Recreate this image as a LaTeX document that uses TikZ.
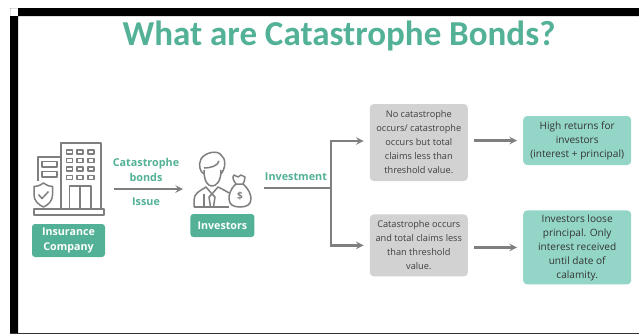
\documentclass[tikz,border=0pt]{standalone}
\usepackage{xcolor}
\usepackage{fontspec}
\setmainfont{Open Sans}
\newfontfamily\titlefont{Carlito}
\usetikzlibrary{arrows, positioning}
\definecolor{tealdark}{HTML}{52B196}
\definecolor{teallight}{HTML}{93D6C7}
\definecolor{greybox}{HTML}{D2D2D2}
\definecolor{greyline}{HTML}{7F7F7F}

\begin{document}
\begin{tikzpicture}[
    x=1pt, y=-1pt,
    darkbox/.style={rectangle, rounded corners=3pt, fill=tealdark, text=white, font=\fontsize{10.7}{15}\selectfont\bfseries, align=center, inner sep=0pt},
    greynode/.style={rectangle, rounded corners=4pt, fill=greybox, text=black!75, font=\fontsize{9.2}{14}\selectfont, align=center, inner sep=0pt, minimum width=98pt},
    result/.style={rectangle, rounded corners=4pt, fill=teallight, text=black!80, font=\fontsize{10.1}{14}\selectfont, align=center, inner sep=0pt, minimum width=108pt},
    caption/.style={text=tealdark, font=\fontsize{10.8}{15}\selectfont\bfseries, align=center, inner sep=0pt},
    arrow/.style={line width=2.3pt, ->, >=stealth, draw=greyline},
    flowline/.style={line width=2.3pt, draw=greyline},
    icon/.style={line width=1.5pt, draw=greyline, line join=round}
]
    \useasboundingbox (0,0) rectangle (639,335);
    \fill[white] (0,0) rectangle (639,335);

    % Frame
    \fill[black] (10,333.5) rectangle (18,8) -- (10,8) rectangle (639,16);
    \fill[black!80] (10,332.5) rectangle (639,334);

    % Title
    \node[text=tealdark, inner sep=0pt, font=\fontsize{35}{38}\selectfont\titlefont\bfseries] (title) at (339,36) {What are Catastrophe Bonds?};

    % Boxes
    \node[darkbox, minimum width=73pt, minimum height=33pt] (insurance) at (68.5,240.5) {Insurance\\Company};
    \node[darkbox, minimum width=64pt, minimum height=23pt, right=85pt of insurance.east, anchor=west, yshift=15pt] (investors) {Investors};
    \node[greynode, minimum height=77pt, right=115pt of investors.east, anchor=west, yshift=83pt] (nocat) {No catastrophe\\occurs/ catastrophe\\occurs but total\\claims less than\\threshold value.};
    \node[greynode, minimum height=62pt, below=33pt of nocat] (cat) {Catastrophe occurs\\and total claims less\\than threshold\\value.};
    \node[result, minimum height=49pt, right=55pt of nocat, yshift=2pt] (high) {High returns for\\investors\\(interest + principal)};
    \node[result, minimum height=74pt, right=55pt of cat, yshift=-2pt] (loose) {Investors loose\\principal. Only\\interest received\\until date of\\calamity.};

    % Labels
    \node[caption] (bonds) at (146,170) {Catastrophe\\bonds};
    \node[caption] (issue) at (146,202) {Issue};
    \node[caption] (investment) at (296,177) {Investment};

    % Building
    \draw[icon] (34,209) rectangle (104,215);
    \draw[icon] (61,209) -- (61,143) -- (101,143) -- (101,209);
    \foreach \wy in {150,158.5,167,175.5}
        \foreach \wx in {66.5,77,88}
            \draw[icon] (\wx,\wy) rectangle ++(6,4);
    \draw[icon] (69.5,209) -- (69.5,186) -- (91,186) -- (91,209);
    \draw[icon] (80,186) -- (80,209);
    \draw[icon] (38,181) -- (38,157) -- (61,157);
    \draw[icon] (42,161.5) rectangle (57,167);
    \draw[icon] (42,171.5) rectangle (57,177);
    \draw[icon] (43.5,183) .. controls (39,186) and (37,186.5) .. (34,186.5) -- (34,195) .. controls (34,201) and (39,205) .. (43.5,207) .. controls (48,205) and (52.5,201) .. (52.5,195) -- (52.5,186.5) .. controls (50,186.5) and (48,186) .. (43.5,183) -- cycle;
    \draw[icon] (38.5,194.5) -- (42,198.5) -- (48.5,191.5);

    % Investor
    \draw[icon] (204,170) .. controls (204,182) and (208,186) .. (212,186) .. controls (216,186) and (221,182) .. (221,170);
    \draw[icon] (204,174) .. controls (200,172) and (198,165) .. (201,159) .. controls (205,152) and (218,150) .. (221,155) .. controls (226,158) and (226,168) .. (221,174);
    \draw[icon] (204,168) .. controls (210,168) and (218,166) .. (219,161);
    \draw[icon] (194,207) -- (194,200) .. controls (194,193) and (200,191) .. (206,187) -- (212,194) -- (218,187) .. controls (222,189) and (226,191) .. (229,193);
    \draw[icon] (194,207) -- (229,207);
    \draw[icon] (212,194) -- (209,197) -- (210.5,207);
    \draw[icon] (212,194) -- (215,197) -- (213.5,207);
    \draw[icon] (204,194) -- (204,207);
    % Money bag
    \draw[icon, fill=white] (236,184) .. controls (230,189) and (229,195) .. (229,199) .. controls (229,205) and (234,207) .. (240,207) .. controls (246,207) and (251,205) .. (251,199) .. controls (251,195) and (249,189) .. (243,184) -- cycle;
    \draw[icon] (236,184) .. controls (233,180) and (232,177) .. (234,175) -- (238,177) -- (241,175) -- (245,177) .. controls (245,180) and (244,182) .. (243,184);
    \node[text=greyline, inner sep=0pt, font=\fontsize{10}{10}\selectfont\bfseries] (dollar) at (240,196) {\$};

    % Free ends
    \coordinate (issuefrom) at (114,189);
    \coordinate (issueto) at (183,189);
    \coordinate (investfrom) at (264,188);
    \coordinate (split) at (331,188);

    % Arrows
    \draw[arrow] (issuefrom) -- (issueto);
    \draw[flowline] (investfrom) -- (split);
    \draw[arrow, shorten >=6pt] (split) |- ([yshift=1.5pt]nocat.west);
    \draw[arrow, shorten >=6pt] (split) |- (cat.west);
    \draw[arrow, shorten <=6pt, shorten >=6pt] (nocat.east |- high.west) -- (high.west);
    \draw[arrow, shorten <=6pt, shorten >=6pt] (cat.east |- loose.west) -- (loose.west);

\end{tikzpicture}
\end{document}
